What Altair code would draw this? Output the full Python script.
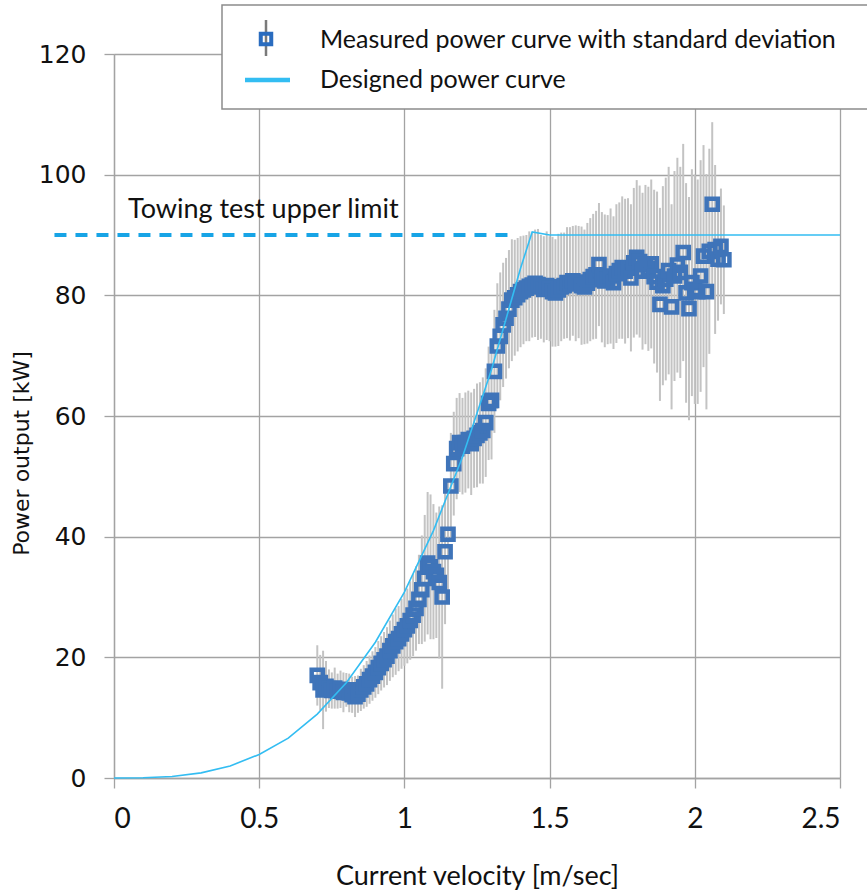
import altair as alt
import pandas as pd

# ---- measured power curve (velocity m/s, mean power kW, standard deviation kW)
velocity = [0.70, 0.71, 0.72, 0.73, 0.74, 0.75, 0.76, 0.77, 0.78, 0.79,
            0.80, 0.81, 0.82, 0.83, 0.84, 0.85, 0.86, 0.87, 0.88, 0.89,
            0.90, 0.91, 0.92, 0.93, 0.94, 0.95, 0.96, 0.97, 0.98, 0.99,
            1.00, 1.01, 1.02, 1.03, 1.04, 1.05, 1.06, 1.07, 1.08, 1.09,
            1.10, 1.11, 1.12, 1.13, 1.14, 1.15, 1.16, 1.17, 1.18, 1.19,
            1.20, 1.21, 1.22, 1.23, 1.24, 1.25, 1.26, 1.27, 1.28, 1.29,
            1.30, 1.31, 1.32, 1.33, 1.34, 1.35, 1.36, 1.37, 1.38, 1.39,
            1.40, 1.41, 1.42, 1.43, 1.44, 1.45, 1.46, 1.47, 1.48, 1.49,
            1.50, 1.51, 1.52, 1.53, 1.54, 1.55, 1.56, 1.57, 1.58, 1.59,
            1.60, 1.61, 1.62, 1.63, 1.64, 1.65, 1.66, 1.67, 1.68, 1.69,
            1.70, 1.71, 1.72, 1.73, 1.74, 1.75, 1.76, 1.77, 1.78, 1.79,
            1.80, 1.81, 1.82, 1.83, 1.84, 1.85, 1.86, 1.87, 1.88, 1.89,
            1.90, 1.91, 1.92, 1.93, 1.94, 1.95, 1.96, 1.97, 1.98, 1.99,
            2.00, 2.01, 2.02, 2.03, 2.04, 2.05, 2.06, 2.07, 2.08, 2.09,
            2.10]
power = [17.0, 15.8, 14.6, 15.2, 14.8, 14.5, 14.9, 14.4, 14.7, 14.2,
         14.6, 14.1, 13.8, 13.5, 13.9, 14.6, 15.1, 15.6, 16.3, 16.9,
         17.5, 18.3, 19.0, 19.6, 20.2, 21.1, 21.9, 22.6, 23.1, 23.9,
         24.6, 25.2, 26.1, 27.0, 28.1, 29.6, 31.2, 33.1, 35.6, 35.0,
         34.2, 33.6, 32.4, 30.0, 37.5, 40.4, 48.4, 52.1, 54.6, 55.6,
         55.0, 55.6, 56.1, 55.4, 56.3, 56.8, 57.2, 57.6, 58.9, 62.1,
         62.6, 67.4, 71.6, 73.2, 75.1, 76.2, 77.7, 79.2, 79.6, 80.1,
         80.6, 80.9, 81.2, 81.5, 81.7, 82.0, 81.8, 81.4, 81.0, 81.6,
         81.1, 80.6, 80.4, 80.9, 81.4, 81.6, 82.1, 81.9, 82.4, 82.0,
         82.2, 81.6, 81.4, 82.0, 82.6, 83.1, 83.4, 85.1, 83.0, 82.4,
         82.6, 83.2, 82.1, 83.6, 84.1, 84.6, 84.0, 84.5, 82.9, 85.4,
         86.3, 85.6, 84.0, 85.1, 84.4, 85.2, 83.1, 82.2, 78.5, 81.6,
         82.7, 84.1, 78.1, 83.2, 85.0, 83.8, 87.1, 80.4, 77.8, 82.1,
         81.0, 80.6, 83.2, 86.5, 80.6, 87.3, 95.1, 87.6, 86.0, 88.1,
         85.9]
std_dev = [5.0, 4.6, 6.5, 4.2,
           3.2, 3.0, 3.4, 2.9, 3.1, 3.3, 2.8, 3.2, 3.0, 3.4, 3.1,
           3.5, 3.6, 3.8, 4.0, 4.1, 4.2, 4.4, 4.5, 4.6, 4.8,
           5.0, 5.2, 5.5, 5.4, 5.8, 6.0, 6.2, 6.5, 6.8, 7.0, 7.4,
           9.0, 10.5, 11.8, 12.0, 11.2, 10.4, 12.6, 15.2, 12.0,
           9.2, 8.8, 8.6, 8.4, 8.2, 8.0, 8.3, 8.1, 8.5, 8.2, 8.6, 8.4, 8.8, 9.0, 9.4,
           9.8, 10.2, 10.4, 10.6, 10.3, 10.0, 9.8, 10.1, 9.6, 9.4, 9.2,
           9.0, 8.8, 9.1, 8.7, 8.9, 9.2, 8.6, 8.8, 9.0, 8.7, 9.1, 8.9, 9.3, 9.0, 8.8,
           9.2, 9.4, 9.1, 9.6, 9.3, 9.8, 9.5, 10.0, 10.2, 10.4,
           10.6, 10.2, 10.8, 11.0, 10.7, 11.2, 11.0, 11.5, 11.3, 11.8, 12.0, 11.6, 12.2,
           12.4, 12.8, 12.6, 13.0, 13.2, 13.6, 14.0, 14.4, 15.0,
           16.0, 16.5, 16.8, 17.2, 17.0, 17.4, 17.8, 17.5,
           18.0, 18.2, 18.5, 18.8, 19.0, 18.6, 19.2, 18.4, 19.5, 17.0, 13.6, 14.0,
           10.2, 9.6, 9.0]

# ---- designed power curve
design_v = [0.0, 0.1, 0.2, 0.3, 0.4, 0.5, 0.6, 0.7, 0.8, 0.9, 1.0,
            1.1, 1.2, 1.3, 1.4, 1.44, 1.5, 2.5]
design_p = [0.0, 0.03, 0.25, 0.85, 2.0, 3.9, 6.6, 10.6, 15.8, 22.5, 30.8,
            41.0, 53.2, 67.7, 84.5, 90.5, 90.0, 90.0]

# ---- towing test upper limit
limit_v = [-0.205]
limit_v2 = [1.365]
limit_p = [90]

x_ticks = [0, 0.5, 1, 1.5, 2, 2.5]
y_ticks = [0, 20, 40, 60, 80, 100, 120]

meas = pd.DataFrame({"v": velocity, "p": power, "sd": std_dev})
meas["lo"] = meas["p"] - meas["sd"]
meas["hi"] = meas["p"] + meas["sd"]
design = pd.DataFrame({"v": design_v, "p": design_p})
limit = pd.DataFrame({"v": limit_v, "v2": limit_v2, "p": limit_p})
one = pd.DataFrame({"k": [0]})

GRID = "#a3a3a3"
SQ = "#3f74b9"
CYAN = "#33bdf2"
DASH = "#17a4e6"

xs = alt.Scale(domain=[0, 2.5], nice=False, zero=False)
ys = alt.Scale(domain=[0, 120], nice=False)

xaxis = alt.Axis(values=x_ticks, format="~g", title="Current velocity [m/sec]",
                 labelFont="Lato", labelFontSize=28, labelColor="#111111",
                 labelPadding=17, tickSize=10, tickColor=GRID, tickWidth=1.3,
                 domainColor=GRID, domainWidth=1.3, gridColor=GRID, gridWidth=1.3,
                 titleFont="Lato", titleFontSize=27, titleFontWeight="normal",
                 titleColor="#111111", titleY=98, titleBaseline="middle")
yaxis = alt.Axis(values=y_ticks, title="Power output [kW]",
                 labelFont="DejaVu Sans", labelFontSize=25, labelColor="#111111",
                 labelPadding=18, tickSize=10, tickColor=GRID, tickWidth=1.3,
                 domainColor=GRID, domainWidth=1.3, gridColor=GRID, gridWidth=1.3,
                 titleFont="DejaVu Sans", titleFontSize=22, titleFontWeight="normal",
                 titleColor="#111111", titleX=-93, titleY=399, titleAngle=270,
                 titleBaseline="middle", titleAlign="center")

X = alt.X("v:Q", scale=xs, axis=xaxis)
Y = alt.Y("p:Q", scale=ys, axis=yaxis)

limit_line = alt.Chart(limit).mark_rule(
    color=DASH, strokeWidth=4, strokeDash=[12, 9]
).encode(x=X, x2="v2:Q", y=Y)

err = alt.Chart(meas).mark_rule(color="#c3c3c3", strokeWidth=2).encode(
    x=X, y=alt.Y("lo:Q", scale=ys, axis=yaxis), y2="hi:Q")

pts = alt.Chart(meas).mark_point(
    shape="square", filled=False, size=125, strokeWidth=4.5, color=SQ, opacity=1
).encode(x=X, y=Y)

design_line = alt.Chart(design).mark_line(color=CYAN, strokeWidth=1.6).encode(x=X, y=Y)

limit_text = alt.Chart(one).mark_text(
    align="left", baseline="middle", font="Lato", fontSize=27, color="#111111"
).encode(x=alt.value(14), y=alt.value(156), text=alt.value("Towing test upper limit"))

leg_box = alt.Chart(one).mark_rect(
    fill="white", stroke="#8c8c8c", strokeWidth=1.5
).encode(x=alt.value(108), x2=alt.value(770), y=alt.value(-49), y2=alt.value(55))

leg_bar = alt.Chart(one).mark_rule(color="#7a7a7a", strokeWidth=2.5).encode(
    x=alt.value(152), y=alt.value(-34), y2=alt.value(2))
leg_sq = alt.Chart(one).mark_point(
    shape="square", filled=False, size=110, strokeWidth=4, color="#2a6cbf", opacity=1
).encode(x=alt.value(152), y=alt.value(-15))
leg_line = alt.Chart(one).mark_rule(color=CYAN, strokeWidth=4.5).encode(
    x=alt.value(131), x2=alt.value(176), y=alt.value(26))
leg_t1 = alt.Chart(one).mark_text(
    align="left", baseline="middle", font="Lato", fontSize=25, color="#111111"
).encode(x=alt.value(206), y=alt.value(-14),
         text=alt.value("Measured power curve with standard deviation"))
leg_t2 = alt.Chart(one).mark_text(
    align="left", baseline="middle", font="Lato", fontSize=25, color="#111111"
).encode(x=alt.value(206), y=alt.value(26), text=alt.value("Designed power curve"))

chart = alt.layer(
    limit_line, err, pts, design_line, limit_text,
    leg_box, leg_bar, leg_sq, leg_line, leg_t1, leg_t2
).properties(
    width=726, height=724,
    autosize=alt.AutoSizeParams(type="none"),
    padding={"left": 114, "top": 54, "right": 27, "bottom": 117},
    background="white",
).configure_view(stroke=None)

chart.save("out.html", embed_options={"renderer": "svg", "actions": False})
